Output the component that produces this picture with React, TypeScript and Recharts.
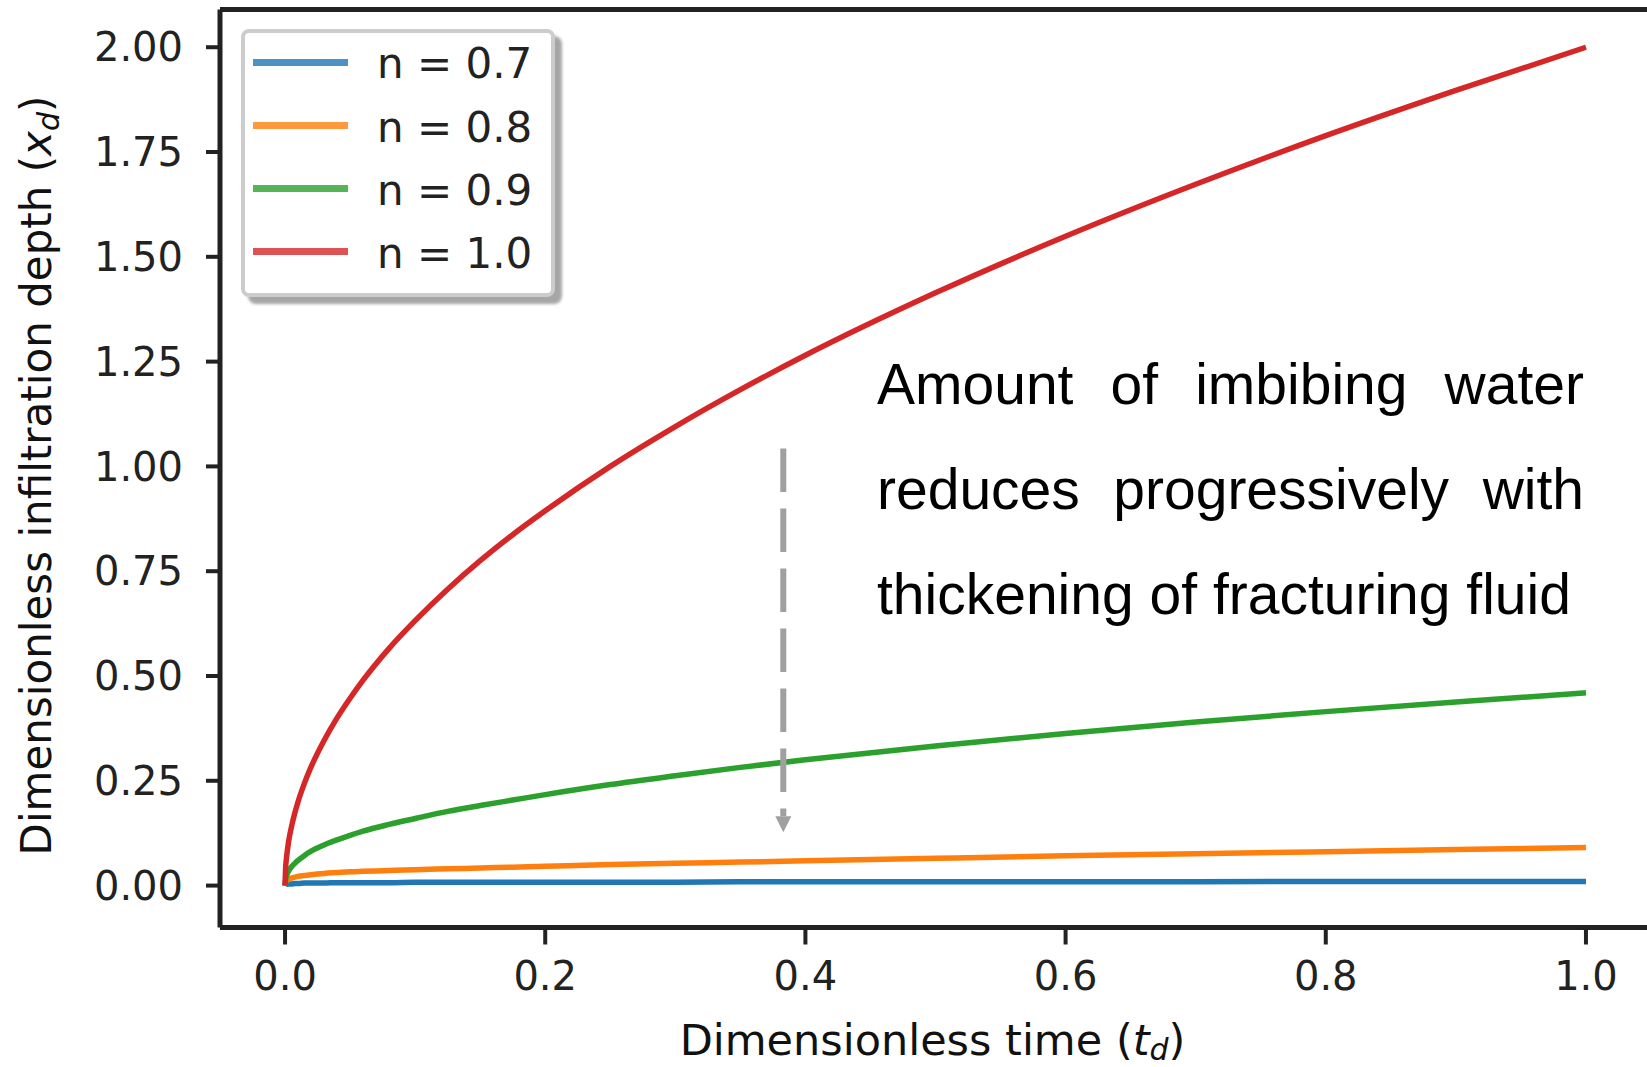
import React from 'react';
import { LineChart, Line, XAxis, YAxis, ReferenceLine, Label } from 'recharts';

// dimensionless time samples (denser near 0 where the curves rise fast)
const timeSteps = [0, 0.0005, 0.001, 0.002, 0.003, 0.005, 0.0075, 0.01, 0.015, 0.02, 0.03, 0.04, 0.05, 0.06, 0.08, 0.1, 0.125, 0.15, 0.175, 0.2, 0.25, 0.3, 0.35, 0.4, 0.5, 0.6, 0.7, 0.8, 0.9, 1.0];

// dimensionless infiltration depth, one array per flow index n
const depthN07 = [0, 0.002, 0.003, 0.003, 0.004, 0.004, 0.005, 0.005, 0.006, 0.006, 0.006, 0.007, 0.007, 0.007, 0.007, 0.008, 0.008, 0.008, 0.008, 0.008, 0.008, 0.008, 0.009, 0.009, 0.009, 0.009, 0.009, 0.01, 0.01, 0.01];
const depthN08 = [0, 0.008, 0.011, 0.014, 0.016, 0.018, 0.02, 0.022, 0.024, 0.026, 0.029, 0.031, 0.033, 0.034, 0.036, 0.038, 0.04, 0.042, 0.044, 0.046, 0.05, 0.053, 0.056, 0.059, 0.065, 0.071, 0.076, 0.081, 0.086, 0.091];
const depthN09 = [0, 0.016, 0.022, 0.03, 0.036, 0.045, 0.053, 0.06, 0.072, 0.082, 0.097, 0.109, 0.12, 0.13, 0.146, 0.16, 0.177, 0.191, 0.204, 0.217, 0.241, 0.262, 0.282, 0.3, 0.333, 0.363, 0.39, 0.415, 0.438, 0.46];
const depthN10 = [0, 0.045, 0.063, 0.089, 0.11, 0.141, 0.173, 0.2, 0.245, 0.283, 0.346, 0.4, 0.447, 0.49, 0.566, 0.632, 0.707, 0.775, 0.837, 0.894, 1.0, 1.095, 1.183, 1.265, 1.414, 1.549, 1.673, 1.789, 1.897, 2.0];

const xTicks = [0, 0.2, 0.4, 0.6, 0.8, 1.0];
const yTicks = [0, 0.25, 0.5, 0.75, 1.0, 1.25, 1.5, 1.75, 2.0];

const seriesNames = ['n = 0.7', 'n = 0.8', 'n = 0.9', 'n = 1.0'];
const seriesKeys = ['n07', 'n08', 'n09', 'n10'];
const seriesColors = ['#1f77b4', '#ff7f0e', '#2ca02c', '#d62728'];

const noteLines = ['Amount of imbibing water', 'reduces progressively with', 'thickening of fracturing fluid'];

// arrow annotation (data coords)
const arrowT = 0.383;
const arrowFrom = 1.043;
const arrowTo = 0.127;

const rows = timeSteps.map((t, i) => ({
  t,
  n07: depthN07[i],
  n08: depthN08[i],
  n09: depthN09[i],
  n10: depthN10[i],
}));

const AXIS = '#222';
const TICK_FONT = { fill: '#222', fontSize: 40, fontFamily: 'DejaVu Sans' };

function ArrowShape(props: any) {
  const { x1, y1, x2, y2 } = props;
  const head = 16;
  return (
    <g>
      <line x1={x1} y1={y1} x2={x2} y2={y2 - head} stroke="#a0a0a0" strokeWidth={6} strokeDasharray="43.5 16.5" />
      <polygon points={`${x2 - 8},${y2 - head} ${x2 + 8},${y2 - head} ${x2},${y2}`} fill="#a0a0a0" />
    </g>
  );
}

function XTitle(props: any) {
  const vb = props.viewBox || { x: 220, y: 927.5, width: 1431, height: 139.5 };
  return (
    <text x={vb.x + vb.width / 2 - 3} y={vb.y + 127} textAnchor="middle" fontSize={43} fontFamily="DejaVu Sans" fill="#111">
      Dimensionless time (
      <tspan fontStyle="italic">t</tspan>
      <tspan fontStyle="italic" fontSize={30} dy={5}>d</tspan>
      <tspan dy={-5}>)</tspan>
    </text>
  );
}

function YTitle(props: any) {
  const vb = props.viewBox || { x: 0, y: 9.5, width: 220, height: 918 };
  const cx = vb.x + 51;
  const cy = vb.y + vb.height / 2 + 7;
  return (
    <text x={cx} y={cy} transform={`rotate(-90 ${cx} ${cy})`} textAnchor="middle" fontSize={42} fontFamily="DejaVu Sans" fill="#111">
      Dimensionless infiltration depth (
      <tspan fontStyle="italic">x</tspan>
      <tspan fontStyle="italic" fontSize={30} dy={8}>d</tspan>
      <tspan dy={-8}>)</tspan>
    </text>
  );
}

function LegendBox() {
  return (
    <div
      style={{
        position: 'absolute',
        left: 241,
        top: 29,
        width: 314,
        height: 268,
        boxSizing: 'border-box',
        border: '4px solid #cccccc',
        borderRadius: 8,
        background: '#fff',
        boxShadow: '7px 7px 3px rgba(0,0,0,0.35)',
      }}
    >
      {seriesNames.map((name, i) => (
        <div
          key={name}
          style={{ position: 'absolute', left: 0, top: i * 63.3 - 2.65, height: 63.3, width: '100%', display: 'flex', alignItems: 'center' }}
        >
          <div style={{ position: 'absolute', left: 8, width: 95, height: 7, background: seriesColors[i], opacity: 0.8 }} />
          <div style={{ position: 'absolute', left: 132, fontSize: 42, fontFamily: 'DejaVu Sans', color: '#222', lineHeight: '63px', top: 2 }}>
            {name}
          </div>
        </div>
      ))}
    </div>
  );
}

export default function App() {
  return (
    <div style={{ position: 'absolute', left: 0, top: 0, width: 1647, height: 1067, overflow: 'hidden', background: '#fff', fontFamily: 'DejaVu Sans' }}>
      <LineChart width={1652} height={1067} data={rows} margin={{ top: 9.5, right: 1, bottom: 0, left: 0 }}>
        <XAxis
          type="number"
          dataKey="t"
          domain={[-0.05, 1.05]}
          ticks={xTicks}
          allowDataOverflow
          height={139.5}
          axisLine={{ stroke: AXIS, strokeWidth: 5 }}
          tickLine={{ stroke: AXIS, strokeWidth: 4 }}
          tickSize={17}
          tickMargin={17}
          tick={TICK_FONT}
          tickFormatter={(v: number) => v.toFixed(1)}
        >
          <Label content={XTitle} />
        </XAxis>
        <YAxis
          type="number"
          domain={[-0.1, 2.09]}
          ticks={yTicks}
          allowDataOverflow
          width={220}
          axisLine={{ stroke: AXIS, strokeWidth: 5 }}
          tickLine={{ stroke: AXIS, strokeWidth: 4 }}
          tickSize={14}
          tickMargin={23}
          tick={TICK_FONT}
          tickFormatter={(v: number) => v.toFixed(2)}
        >
          <Label content={YTitle} />
        </YAxis>
        <ReferenceLine y={2.09} stroke={AXIS} strokeWidth={5} />
        <ReferenceLine x={1.05} stroke={AXIS} strokeWidth={5} />
        {seriesKeys.map((k, i) => (
          <Line
            key={k}
            type="monotone"
            dataKey={k}
            stroke={seriesColors[i]}
            strokeWidth={5.5}
            dot={false}
            isAnimationActive={false}
          />
        ))}
        <ReferenceLine
          segment={[
            { x: arrowT, y: arrowFrom },
            { x: arrowT, y: arrowTo },
          ]}
          shape={ArrowShape}
          ifOverflow="visible"
        />
      </LineChart>
      <LegendBox />
      <div style={{ position: 'absolute', left: 877, top: 332, width: 707, fontFamily: 'Liberation Sans', fontSize: 57, color: '#000', lineHeight: '105px' }}>
        {noteLines.map((line, i) => (
          <div key={i} style={{ textAlign: 'justify', textAlignLast: i < noteLines.length - 1 ? 'justify' : 'left', whiteSpace: 'nowrap' }}>
            {line}
          </div>
        ))}
      </div>
    </div>
  );
}
